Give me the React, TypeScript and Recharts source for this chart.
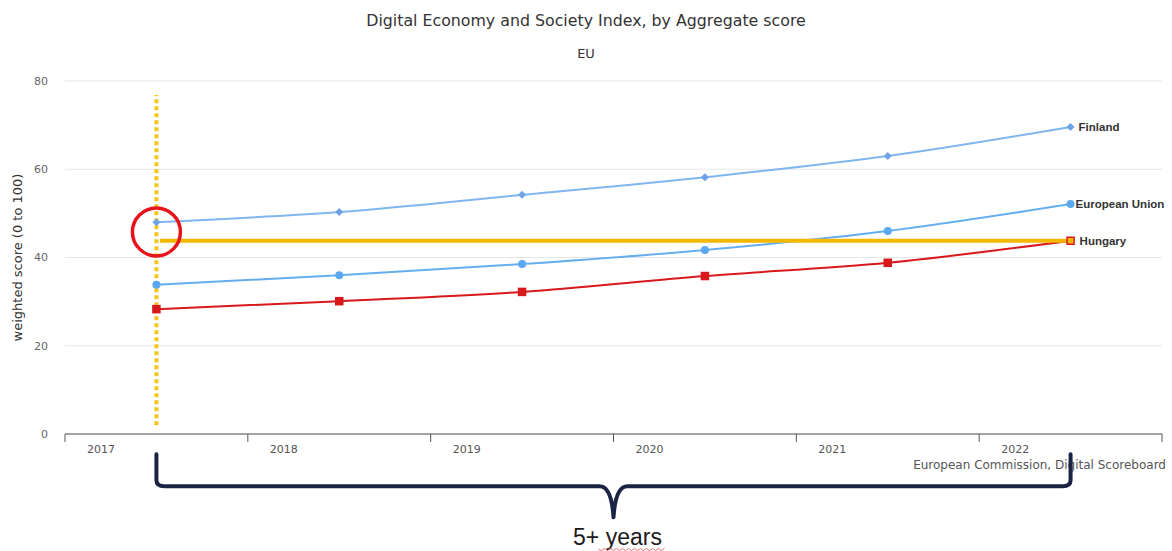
import { ComposedChart, Line, XAxis, YAxis, CartesianGrid, ReferenceLine, ReferenceDot } from 'recharts';

// DESI aggregate score, one value per year
const years = [2017, 2018, 2019, 2020, 2021, 2022];
const finland = [48.0, 50.3, 54.2, 58.2, 63.0, 69.6];
const eu = [33.8, 36.0, 38.5, 41.7, 46.0, 52.1];
const hungary = [28.3, 30.1, 32.2, 35.8, 38.8, 43.8];
const yTicks = [0, 20, 40, 60, 80];
const xTicks = [2017, 2018, 2019, 2020, 2021, 2022, 2023];

// annotation values
const markYear = 2017.5;
const endYear = 2022.5;
const hungaryNow = 43.8;
const circleAt = 45.8;

const FONT = '"DejaVu Sans", Verdana, sans-serif';
const LABEL_FONT = '"Liberation Sans", Arial, sans-serif';

// points sit in the middle of each year
const data = years.map((y, i) => ({
  x: y + 0.5,
  finland: finland[i],
  eu: eu[i],
  hungary: hungary[i],
}));

const last = years.length - 1;

function endLabel(name: string, dx: number) {
  return (p: any) =>
    p.index === last ? (
      <text x={p.x + dx} y={p.y} dy="0.35em" fontSize={11.5} fontWeight="bold" fill="#333" fontFamily={LABEL_FONT}>
        {name}
      </text>
    ) : null;
}

const diamond = (p: any) => (
  <path key={p.index} d={`M${p.cx},${p.cy - 4}L${p.cx + 4},${p.cy}L${p.cx},${p.cy + 4}L${p.cx - 4},${p.cy}Z`} fill="#6fa3e8" />
);
const circle = (p: any) => <circle key={p.index} cx={p.cx} cy={p.cy} r={4} fill="#5aa8ef" />;
// the last Hungary square sits under the yellow line, so its middle shows yellow
const square = (p: any) => (
  <rect
    key={p.index}
    x={p.cx - 3.5}
    y={p.cy - 3.5}
    width={7}
    height={7}
    fill={p.index === last ? '#f5b800' : '#d7191c'}
    stroke="#d7191c"
    strokeWidth={1.5}
  />
);

function XTick(p: any) {
  if (p.payload.value === 2023) return null;
  return (
    <text x={p.x + 36} y={p.y + 9} textAnchor="middle" fontSize={11} fill="#555" fontFamily={FONT}>
      {p.payload.value}
    </text>
  );
}

function Brace(p: any) {
  const { x1, x2, y1 } = p;
  const cx = (x1 + x2) / 2;
  const yh = y1 + 32;
  const tip = y1 + 63;
  const d = [
    `M${x1},${y1}`,
    `L${x1},${yh - 6}`,
    `Q${x1},${yh} ${x1 + 8},${yh}`,
    `L${cx - 14},${yh}`,
    `Q${cx - 2},${yh} ${cx},${tip}`,
    `Q${cx + 2},${yh} ${cx + 14},${yh}`,
    `L${x2 - 8},${yh}`,
    `Q${x2},${yh} ${x2},${yh - 6}`,
    `L${x2},${y1}`,
  ].join(' ');
  const wx0 = cx - 15;
  let wave = `M${wx0},${tip + 32}`;
  for (let i = 1; i <= 22; i++) wave += ` L${wx0 + i * 3},${tip + 32 + (i % 2 ? 1.2 : -0.8)}`;
  return (
    <g>
      <path d={d} fill="none" stroke="#1b2444" strokeWidth={4} strokeLinejoin="round" strokeLinecap="round" />
      <text x={cx + 4} y={tip + 28} textAnchor="middle" fontSize={23} fill="#1b1b1b" fontFamily='"Liberation Sans", Arial, sans-serif'>
        5+ years
      </text>
      <path d={wave} fill="none" stroke="#e07070" strokeWidth={1} />
    </g>
  );
}

export default function App() {
  return (
    <div style={{ position: 'absolute', left: 0, top: 0, width: 1172, height: 551, background: '#fff' }}>
      <div style={{ position: 'absolute', top: 11, width: 1172, textAlign: 'center', fontFamily: FONT, fontSize: 15.8, color: '#333' }}>
        Digital Economy and Society Index, by Aggregate score
      </div>
      <div style={{ position: 'absolute', top: 46, width: 1172, textAlign: 'center', fontFamily: FONT, fontSize: 13, color: '#333' }}>
        EU
      </div>
      <div style={{ position: 'absolute', top: 458, right: 6, fontFamily: FONT, fontSize: 12, color: '#555' }}>
        European Commission, Digital Scoreboard
      </div>
      <ComposedChart width={1172} height={551} data={data} margin={{ top: 81, right: 10, bottom: 0, left: 0 }}>
        <CartesianGrid vertical={false} stroke="#e6e6e6" />
        <XAxis
          dataKey="x"
          type="number"
          domain={[2017, 2023]}
          ticks={xTicks}
          height={117}
          stroke="#555"
          tickSize={8}
          tickMargin={2}
          tick={<XTick />}
          interval={0}
        />
        <YAxis
          type="number"
          domain={[0, 80]}
          ticks={yTicks}
          width={65}
          axisLine={false}
          tickLine={false}
          tickSize={0}
          tickMargin={17}
          tick={{ fontSize: 11, fill: '#666', fontFamily: FONT }}
          label={{
            value: 'weighted score (0 to 100)',
            angle: -90,
            position: 'insideLeft',
            dx: 12,
            style: { fontSize: 13, fill: '#333', fontFamily: FONT, textAnchor: 'middle' },
          }}
        />
        <Line dataKey="finland" type="monotone" stroke="#7fb6ee" strokeWidth={2} dot={diamond} isAnimationActive={false} label={endLabel('Finland', 8)} />
        <Line dataKey="eu" type="monotone" stroke="#64aef0" strokeWidth={2} dot={circle} isAnimationActive={false} label={endLabel('European Union', 5)} />
        <Line dataKey="hungary" type="monotone" stroke="#d7191c" strokeWidth={2} dot={square} isAnimationActive={false} label={endLabel('Hungary', 9)} />
        <ReferenceLine
          segment={[{ x: markYear + 0.02, y: hungaryNow }, { x: endYear - 0.01, y: hungaryNow }]}
          stroke="#f5b800"
          strokeWidth={4}
          ifOverflow="visible"
        />
        <ReferenceLine
          segment={[{ x: markYear, y: 2 }, { x: markYear, y: 76.8 }]}
          stroke="#f5c518"
          strokeWidth={4}
          strokeDasharray="4 3"
          ifOverflow="visible"
        />
        <ReferenceDot x={markYear} y={circleAt} r={24} fill="none" stroke="#e8141b" strokeWidth={3.5} ifOverflow="visible" />
        <ReferenceLine
          segment={[{ x: markYear, y: -4.6 }, { x: endYear, y: -4.6 }]}
          ifOverflow="visible"
          shape={(p: any) => <Brace {...p} />}
        />
      </ComposedChart>
    </div>
  );
}
